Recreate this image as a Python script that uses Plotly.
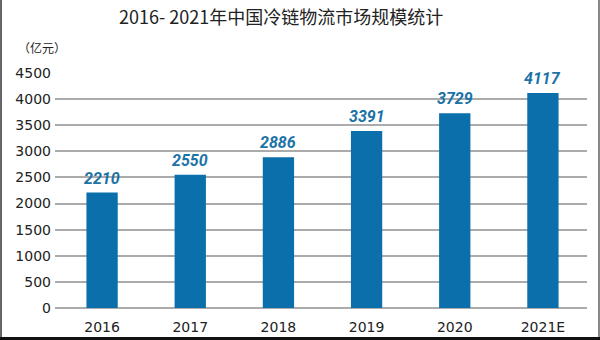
import plotly.graph_objects as go

categories = ["2016", "2017", "2018", "2019", "2020", "2021E"]
values = [2210, 2550, 2886, 3391, 3729, 4117]
tick_vals = [0, 500, 1000, 1500, 2000, 2500, 3000, 3500, 4000, 4500]
title_text = "2016- 2021年中国冷链物流市场规模统计"
unit_text = "（亿元）"

W, H = 600, 340
L, R, T, B = 55, 13, 73, 32
PW, PH = W - L - R, H - T - B
CAT_W = 529 / 6
X0 = -0.5 - (PW - 6 * CAT_W) / CAT_W

def px(x):
    return (x - L) / PW

def py(y):
    return (H - B - y) / PH

BAR = "#0a6fab"
LAB = "#1c73a6"
GRID = "#ababab"
TXT = "#222222"

idx = list(range(len(categories)))

fig = go.Figure()
fig.add_trace(go.Bar(x=idx, y=values, marker_color=BAR, marker_line_width=0,
                     width=0.355, hoverinfo="skip"))

annotations = []
for i, v in zip(idx, values):
    annotations.append(dict(x=i, y=v, xref="x", yref="y", text=f"<b><i>{v}</i></b>",
                            showarrow=False, yanchor="bottom", yshift=3,
                            font=dict(family="Roboto", size=16, color=LAB)))
annotations.append(dict(x=px(281), y=py(16), xref="paper", yref="paper", text=title_text,
                        showarrow=False, xanchor="center", yanchor="middle",
                        font=dict(family="Noto Sans CJK SC", size=18, color=TXT)))
annotations.append(dict(x=px(42), y=py(47), xref="paper", yref="paper", text=unit_text,
                        showarrow=False, xanchor="center", yanchor="middle",
                        font=dict(family="Noto Sans CJK SC", size=12, color=TXT)))

shapes = [
    dict(type="line", xref="paper", yref="paper", x0=px(1), x1=px(1), y0=py(0), y1=py(H),
         line=dict(color="#666666", width=2)),
    dict(type="line", xref="paper", yref="paper", x0=px(599), x1=px(599), y0=py(0), y1=py(H),
         line=dict(color="#888888", width=2)),
    dict(type="line", xref="paper", yref="paper", x0=px(0), x1=px(W), y0=py(338.5), y1=py(338.5),
         line=dict(color="#111111", width=3)),
]

fig.update_layout(
    width=W, height=H,
    margin=dict(l=L, r=R, t=T, b=B, pad=0, autoexpand=False),
    paper_bgcolor="white", plot_bgcolor="white",
    showlegend=False,
    annotations=annotations,
    shapes=shapes,
    xaxis=dict(range=[X0, len(categories) - 0.5], tickvals=idx, ticktext=categories,
               showgrid=False, showline=False, zeroline=False, ticks="", automargin=False,
               tickfont=dict(family="DejaVu Sans", size=14, color=TXT),
               ticklabelstandoff=9, fixedrange=True),
    yaxis=dict(range=[0, 4500], tickvals=tick_vals, showgrid=True, gridcolor=GRID, gridwidth=2,
               zeroline=True, zerolinecolor=GRID, zerolinewidth=2, showline=False,
               ticks="", ticklabelstandoff=3, automargin=False,
               tickfont=dict(family="DejaVu Sans", size=14, color=TXT), fixedrange=True),
)

fig.write_html("out.html")
